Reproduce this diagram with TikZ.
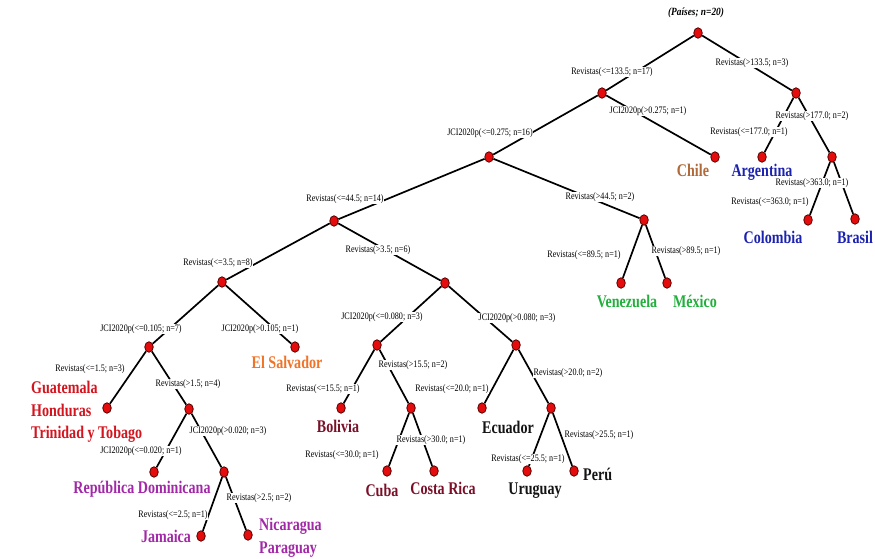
\documentclass[tikz,border=0pt]{standalone}
\usepackage{fontspec}
\setmainfont{Liberation Serif}
\newfontfamily\lblfont[FakeStretch=0.82]{Liberation Serif}
\newfontfamily\leaffont[FakeStretch=0.79]{Liberation Serif}
\newfontfamily\ttlfont[FakeStretch=0.85]{Liberation Serif}
\usetikzlibrary{shapes.geometric}
\definecolor{cbrown}{HTML}{B06A3A}
\definecolor{cblue}{HTML}{1C22B0}
\definecolor{cgreen}{HTML}{22B03C}
\definecolor{corange}{HTML}{F07428}
\definecolor{cred}{HTML}{D4141E}
\definecolor{cpurple}{HTML}{A228A8}
\definecolor{cmaroon}{HTML}{7A1028}
\definecolor{cblack}{HTML}{141414}
\definecolor{dotred}{HTML}{E40C0C}
\definecolor{dotedge}{HTML}{5A0000}
\tikzset{
  dot/.style={ellipse,minimum width=8.5pt,minimum height=10.5pt,inner sep=0pt,fill=dotred,draw=dotedge,line width=0.8pt},
  branch/.style={line width=1.7pt,black},
  lbl/.style={fill=white,inner sep=0.6pt,font=\lblfont\fontsize{9.9}{11}\selectfont},
  leaf/.style={inner sep=0pt,text height=12pt,text depth=0pt,font=\leaffont\bfseries\fontsize{17.8}{22.5}\selectfont},
}
\begin{document}
\begin{tikzpicture}[x=1pt,y=-1pt]
\useasboundingbox[fill=white] (0,0) rectangle (875,559);
% dots
\node[dot] (root) at (698,33) {};
\node[dot] (n1) at (602,93) {};
\node[dot] (n2) at (796,93) {};
\node[dot] (n3) at (489,157) {};
\node[dot] (chile) at (715,157) {};
\node[dot] (arg) at (762,157) {};
\node[dot] (n4) at (832,157) {};
\node[dot] (col) at (808,220) {};
\node[dot] (bra) at (855,219) {};
\node[dot] (n5) at (334,221) {};
\node[dot] (n6) at (644,220) {};
\node[dot] (ven) at (621,283) {};
\node[dot] (mex) at (667,283) {};
\node[dot] (n7) at (222,282) {};
\node[dot] (n8) at (445,283) {};
\node[dot] (n9) at (149,347) {};
\node[dot] (els) at (295,347) {};
\node[dot] (gua) at (107,408) {};
\node[dot] (n10) at (189,409) {};
\node[dot] (rd) at (154,472) {};
\node[dot] (n11) at (224,472) {};
\node[dot] (jam) at (201,536) {};
\node[dot] (nic) at (248,535) {};
\node[dot] (n12) at (377,345) {};
\node[dot] (n13) at (516,345) {};
\node[dot] (bol) at (341,408) {};
\node[dot] (n14) at (411,408) {};
\node[dot] (cub) at (387,471) {};
\node[dot] (cos) at (434,471) {};
\node[dot] (ecu) at (482,408) {};
\node[dot] (n15) at (551,408) {};
\node[dot] (uru) at (527,471) {};
\node[dot] (per) at (574,471) {};
% branches
\draw[branch] (root) -- (n1);
\draw[branch] (root) -- (n2);
\draw[branch] (n1) -- (n3);
\draw[branch] (n1) -- (chile);
\draw[branch] (n2) -- (arg);
\draw[branch] (n2) -- (n4);
\draw[branch] (n4) -- (col);
\draw[branch] (n4) -- (bra);
\draw[branch] (n3) -- (n5);
\draw[branch] (n3) -- (n6);
\draw[branch] (n6) -- (ven);
\draw[branch] (n6) -- (mex);
\draw[branch] (n5) -- (n7);
\draw[branch] (n5) -- (n8);
\draw[branch] (n7) -- (n9);
\draw[branch] (n7) -- (els);
\draw[branch] (n9) -- (gua);
\draw[branch] (n9) -- (n10);
\draw[branch] (n10) -- (rd);
\draw[branch] (n10) -- (n11);
\draw[branch] (n11) -- (jam);
\draw[branch] (n11) -- (nic);
\draw[branch] (n8) -- (n12);
\draw[branch] (n8) -- (n13);
\draw[branch] (n12) -- (bol);
\draw[branch] (n12) -- (n14);
\draw[branch] (n14) -- (cub);
\draw[branch] (n14) -- (cos);
\draw[branch] (n13) -- (ecu);
\draw[branch] (n13) -- (n15);
\draw[branch] (n15) -- (uru);
\draw[branch] (n15) -- (per);
% title
\node[inner sep=0pt,font=\ttlfont\bfseries\itshape\fontsize{11}{12}\selectfont] (title) at (696,13) {(Países; n=20)};
% branch labels
\node[lbl] (l1) at (612,72) {Revistas(<=133.5; n=17)};
\node[lbl] (l2) at (752,63) {Revistas(>133.5; n=3)};
\node[lbl] (l3) at (490,133) {JCI2020p(<=0.275; n=16)};
\node[lbl] (l4) at (648,111) {JCI2020p(>0.275; n=1)};
\node[lbl] (l5) at (749,132) {Revistas(<=177.0; n=1)};
\node[lbl] (l6) at (812,116) {Revistas(>177.0; n=2)};
\node[lbl] (l7) at (812,183) {Revistas(>363.0; n=1)};
\node[lbl] (l8) at (770,202) {Revistas(<=363.0; n=1)};
\node[lbl] (l9) at (345,199) {Revistas(<=44.5; n=14)};
\node[lbl] (l10) at (600,197) {Revistas(>44.5; n=2)};
\node[lbl] (l11) at (584,255) {Revistas(<=89.5; n=1)};
\node[lbl] (l12) at (686,251) {Revistas(>89.5; n=1)};
\node[lbl] (l13) at (218,263) {Revistas(<=3.5; n=8)};
\node[lbl] (l14) at (378,250) {Revistas(>3.5; n=6)};
\node[lbl] (l15) at (141,329) {JCI2020p(<=0.105; n=7)};
\node[lbl] (l16) at (260,329) {JCI2020p(>0.105; n=1)};
\node[lbl] (l17) at (90,369) {Revistas(<=1.5; n=3)};
\node[lbl] (l18) at (188,384) {Revistas(>1.5; n=4)};
\node[lbl] (l19) at (141,451) {JCI2020p(<=0.020; n=1)};
\node[lbl] (l20) at (228,431) {JCI2020p(>0.020; n=3)};
\node[lbl] (l21) at (173,515) {Revistas(<=2.5; n=1)};
\node[lbl] (l22) at (259,498) {Revistas(>2.5; n=2)};
\node[lbl] (l23) at (382,317) {JCI2020p(<=0.080; n=3)};
\node[lbl] (l24) at (517,318) {JCI2020p(>0.080; n=3)};
\node[lbl] (l25) at (323,389) {Revistas(<=15.5; n=1)};
\node[lbl] (l26) at (413,365) {Revistas(>15.5; n=2)};
\node[lbl] (l27) at (342,455) {Revistas(<=30.0; n=1)};
\node[lbl] (l28) at (431,440) {Revistas(>30.0; n=1)};
\node[lbl] (l29) at (452,389) {Revistas(<=20.0; n=1)};
\node[lbl] (l30) at (568,373) {Revistas(>20.0; n=2)};
\node[lbl] (l31) at (528,459) {Revistas(<=25.5; n=1)};
\node[lbl] (l32) at (599,435) {Revistas(>25.5; n=1)};
% leaf texts
\node[leaf,text=cbrown] (tchile) at (693,170) {Chile};
\node[leaf,text=cblue] (targ) at (762,170) {Argentina};
\node[leaf,text=cblue] (tcol) at (773,237) {Colombia};
\node[leaf,text=cblue] (tbra) at (855,237) {Brasil};
\node[leaf,text=cgreen] (tven) at (627,301) {Venezuela};
\node[leaf,text=cgreen] (tmex) at (695,301) {México};
\node[leaf,text=corange] (tels) at (287,362) {El Salvador};
\node[leaf,text=cred,anchor=north west,text height=,text depth=,align=left] (tgua) at (31,381) {Guatemala\\Honduras\\Trinidad y Tobago};
\node[leaf,text=cpurple] (trd) at (142,487) {República Dominicana};
\node[leaf,text=cpurple] (tjam) at (166,536) {Jamaica};
\node[leaf,text=cpurple,anchor=north west,text height=,text depth=,align=left] (tnic) at (259,518) {Nicaragua\\Paraguay};
\node[leaf,text=cmaroon] (tbol) at (338,426) {Bolivia};
\node[leaf,text=cmaroon] (tcub) at (382,490) {Cuba};
\node[leaf,text=cmaroon] (tcos) at (443,488) {Costa Rica};
\node[leaf,text=cblack] (tecu) at (508,427) {Ecuador};
\node[leaf,text=cblack] (turu) at (535,488) {Uruguay};
\node[leaf,text=cblack,anchor=west] (tper) at (583,474) {Perú};
\end{tikzpicture}
\end{document}
